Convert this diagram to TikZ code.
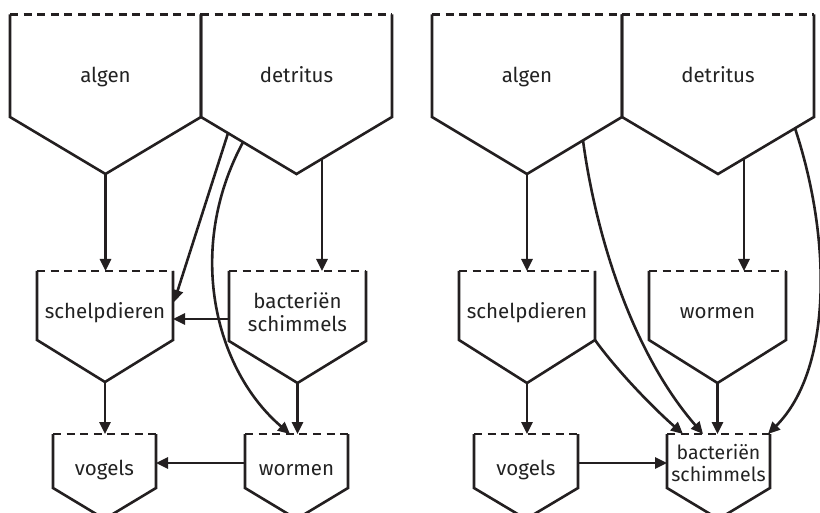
\documentclass[tikz,border=0pt]{standalone}
\usepackage{fontspec}
\setmainfont{Fira Sans}
\usetikzlibrary{arrows.meta}
\definecolor{ink}{HTML}{231F20}
\definecolor{txt}{HTML}{222222}
\tikzset{
  boxline/.style={draw=ink, line width=2.6pt, line join=miter},
  topdash/.style={draw=ink, line width=2.6pt, dash pattern=on 8pt off 5.6pt},
  lbl/.style={text=txt, inner sep=0pt, anchor=base, align=center, font=\fontsize{20.5}{23}\selectfont},
  conn/.style={draw=ink, line width=2.6pt, -{Triangle[length=12pt,width=11pt]}},
}
\newcommand\pentbox[6]{%
  \coordinate (#1-tl) at (#2,#4);
  \coordinate (#1-tr) at (#3,#4);
  \coordinate (#1-bl) at (#2,#5);
  \coordinate (#1-br) at (#3,#5);
  \coordinate (#1-p) at ({(#2+#3)/2},#6);
  \draw[boxline] (#1-tl) -- (#1-bl) -- (#1-p) -- (#1-br) -- (#1-tr);
  \draw[topdash] (#1-tl) -- (#1-tr);
}
\begin{document}
\begin{tikzpicture}[x=1pt,y=-1pt]
\useasboundingbox (0,0) rectangle (820,513);
\clip (0,0) rectangle (820,513);
% ---------- left panel ----------
\pentbox{LA}{10}{201}{14.5}{117}{174}
\pentbox{LD}{201}{392}{14.5}{117}{174}
\pentbox{LS}{37}{173}{271}{340}{382}
\pentbox{LB}{229}{366}{271}{341}{383}
\pentbox{LV}{53}{156}{434}{488}{519}
\pentbox{LW}{245}{348}{434}{488}{519}
\node[lbl] (la) at (105.5,83) {algen};
\node[lbl] (ld) at (296.5,83) {detritus};
\node[lbl] (ls) at (105,319) {schelpdieren};
\node[lbl] (lb) at (297.5,331) {bacteriën\\schimmels};
\node[lbl] (lv) at (104.5,475) {vogels};
\node[lbl] (lw) at (296.5,475) {wormen};
\coordinate (LDa) at (322,158.6);
\coordinate (LBa) at (322,271);
\coordinate (LDb) at (228,133.2);
\coordinate (LSb) at (174,302);
\coordinate (LDc) at (243,142.2);
\coordinate (LWc) at (290,434);
\coordinate (LBl) at (229,319);
\coordinate (LSr) at (173,319);
\coordinate (LWl) at (245,463);
\coordinate (LVr) at (156,463);
\path[conn] (LA-p) -- (LA-p |- LS-tl);
\path[conn] (LDa) -- (LBa);
\path[conn] (LDb) -- (LSb);
\path[conn] (LDc) .. controls (185,250) and (215,370) .. (LWc);
\path[conn] (LBl) -- (LSr);
\path[conn] (LS-p) -- (LS-p |- LV-tl);
\path[conn] (LB-p) -- (LB-p |- LW-tl);
\path[conn] (LWl) -- (LVr);
% ---------- right panel ----------
\pentbox{RA}{432}{622}{14.5}{117}{174}
\pentbox{RD}{622}{814}{14.5}{117}{174}
\pentbox{RS}{459}{595}{271}{340}{383}
\pentbox{RW}{649}{786}{271}{340}{383}
\pentbox{RV}{474}{578}{434}{488}{519}
\pentbox{RB}{667}{770}{434}{488}{519}
\node[lbl] (ra) at (527,83) {algen};
\node[lbl] (rd) at (718,83) {detritus};
\node[lbl] (rs) at (527,319) {schelpdieren};
\node[lbl] (rw) at (717.5,319) {wormen};
\node[lbl] (rv) at (526,475) {vogels};
\node[lbl,font=\fontsize{19.5}{21.5}\selectfont] (rb) at (718.5,481) {bacteriën\\schimmels};
\coordinate (RDa) at (744,158.6);
\coordinate (RWa) at (744,271);
\coordinate (RAc) at (583,140.4);
\coordinate (RBc) at (703,434);
\coordinate (RBs) at (683,434);
\coordinate (RDd) at (795,128.3);
\coordinate (RBd) at (768,434);
\coordinate (RVr) at (578,463);
\coordinate (RBl) at (667,463);
\path[conn] (RA-p) -- (RA-p |- RS-tl);
\path[conn] (RDa) -- (RWa);
\path[conn] (RS-br) .. controls (615,368) and (650,405) .. (RBs);
\path[conn] (RAc) .. controls (595,230) and (630,350) .. (RBc);
\path[conn] (RDd) .. controls (832,240) and (832,370) .. (RBd);
\path[conn] (RS-p) -- (RS-p |- RV-tl);
\path[conn] (RW-p) -- (RW-p |- RB-tl);
\path[conn] (RVr) -- (RBl);
\end{tikzpicture}
\end{document}
